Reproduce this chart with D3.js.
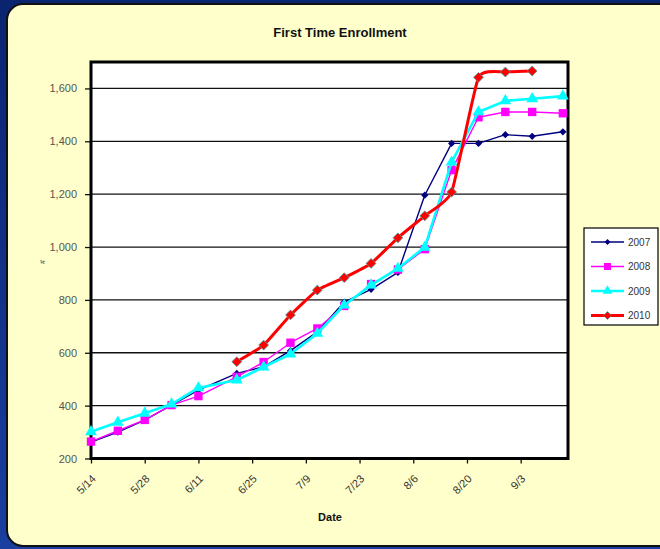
<!DOCTYPE html>
<html><head><meta charset="utf-8">
<script src="https://cdn.jsdelivr.net/npm/d3@7"></script>
<style>body{margin:0;background:#0b2a78;}svg{display:block;}</style>
</head><body>
<svg id="c" width="660" height="549"></svg>
<script>
const dates2007 = ["5/14","5/21","5/28","6/4","6/11","6/21","6/28","7/5","7/12","7/19","7/26","8/2","8/9","8/16","8/23","8/30","9/6","9/14"];
const values2007 = [262,300,345,402,459,522,547,608,679,792,840,904,1196,1392,1392,1425,1419,1436];
const values2008 = [264,305,346,402,436,509,565,638,692,777,860,915,992,1291,1491,1511,1511,1506];
const values2009 = [301,337,371,406,467,497,546,595,673,780,856,919,999,1321,1511,1553,1561,1571];
const dates2010 = ["6/21","6/28","7/5","7/12","7/19","7/26","8/2","8/9","8/16","8/23","8/30","9/6"];
const values2010 = [566,629,743,837,884,938,1035,1118,1208,1642,1662,1666];
const xTickLabels = ["5/14","5/28","6/11","6/25","7/9","7/23","8/6","8/20","9/3"];
const yTicks = [200,400,600,800,1000,1200,1400,1600];
const seriesNames = ["2007","2008","2009","2010"];

const parse = s => { const [m,d] = s.split("/").map(Number); return new Date(2010, m-1, d); };

const svg = d3.select("#c");
const defs = svg.append("defs");
const g1 = defs.append("linearGradient").attr("id","bg").attr("x1",0).attr("y1",0).attr("x2",0).attr("y2",1);
g1.append("stop").attr("offset","0%").attr("stop-color","#0a2470");
g1.append("stop").attr("offset","100%").attr("stop-color","#1a3fa0");
svg.append("rect").attr("width",660).attr("height",549).attr("fill","url(#bg)");
svg.append("rect").attr("x",7).attr("y",4).attr("width",700).attr("height",542).attr("rx",16)
  .attr("fill","#ffffcc").attr("stroke","#111").attr("stroke-width",2);

const L = 91, R = 568, T = 62, B = 458.5;
const x = d3.scaleTime().domain([parse("5/14"), new Date(2010, 8, 15, 8)]).range([L, R]);
const y = d3.scaleLinear().domain([200,1700]).range([B, T]);

svg.append("rect").attr("x",L).attr("y",T).attr("width",R-L).attr("height",B-T).attr("fill","#fff");

svg.append("g").selectAll("line").data(yTicks.filter(v=>v>200)).join("line")
  .attr("x1",L).attr("x2",R).attr("y1",d=>y(d)).attr("y2",d=>y(d))
  .attr("stroke","#111").attr("stroke-width",1.3);

const font = "Arial, Liberation Sans, sans-serif";
const yAxis = d3.axisLeft(y).tickValues(yTicks).tickFormat(d3.format(",")).tickSize(6).tickPadding(8);
const ya = svg.append("g").attr("transform",`translate(${L},0)`).call(yAxis);
ya.select(".domain").remove();
ya.selectAll("line").attr("stroke","#111").attr("stroke-width",1.3);
ya.selectAll("text").attr("font-family",font).attr("font-size",11).attr("fill","#555");

const xAxis = d3.axisBottom(x).tickValues(xTickLabels.map(parse)).tickFormat(d3.timeFormat("%-m/%-d")).tickSize(5).tickPadding(6);
const xa = svg.append("g").attr("transform",`translate(0,${B})`).call(xAxis);
xa.select(".domain").remove();
xa.selectAll("line").attr("stroke","#111").attr("stroke-width",1.3);
xa.selectAll("text").attr("font-family",font).attr("font-size",11).attr("fill","#333")
  .attr("text-anchor","end").attr("y",0).attr("dy",0).attr("transform","translate(5,21) rotate(-45)");

svg.append("rect").attr("x",L).attr("y",T).attr("width",R-L).attr("height",B-T)
  .attr("fill","none").attr("stroke","#000").attr("stroke-width",3);

const series = [
  {name:seriesNames[0], dates:dates2007, vals:values2007, color:"#000080", w:1.4, sym:d3.symbolSquare, rot:45, size:26, curve:d3.curveLinear, stroke:"none"},
  {name:seriesNames[1], dates:dates2007, vals:values2008, color:"#ff00ff", w:1.4, sym:d3.symbolSquare, rot:0, size:70, curve:d3.curveLinear, stroke:"none"},
  {name:seriesNames[2], dates:dates2007, vals:values2009, color:"#00ffff", w:2.6, sym:d3.symbolTriangle, rot:0, size:60, curve:d3.curveLinear, stroke:"none"},
  {name:seriesNames[3], dates:dates2010, vals:values2010, color:"#ff0000", w:3, sym:d3.symbolSquare, rot:45, size:48, curve:d3.curveCardinal.tension(0.55), stroke:"#4a9a9a"}
];

const plot = svg.append("g");
series.forEach(s => {
  const pts = s.dates.map((d,i)=>({d:parse(d), v:s.vals[i]}));
  plot.append("path").datum(pts).attr("fill","none").attr("stroke",s.color).attr("stroke-width",s.w)
    .attr("stroke-linejoin","round")
    .attr("d", d3.line().x(p=>x(p.d)).y(p=>y(p.v)).curve(s.curve));
  plot.append("g").selectAll("path").data(pts).join("path")
    .attr("transform",p=>`translate(${x(p.d)},${y(p.v)}) rotate(${s.rot})`)
    .attr("d", d3.symbol().type(s.sym).size(s.size))
    .attr("fill",s.color).attr("stroke",s.stroke).attr("stroke-width",0.8);
});

svg.append("text").attr("x",340).attr("y",37).attr("text-anchor","middle")
  .attr("font-family",font).attr("font-weight","bold").attr("font-size",13).attr("fill","#111")
  .text("First Time Enrollment");
svg.append("text").attr("x",330).attr("y",521).attr("text-anchor","middle")
  .attr("font-family",font).attr("font-weight","bold").attr("font-size",11).attr("fill","#111")
  .text("Date");
svg.append("text").attr("transform","translate(45,262) rotate(-90)").attr("text-anchor","middle")
  .attr("font-family",font).attr("font-size",7).attr("fill","#333")
  .text("#");

const lg = svg.append("g");
lg.append("rect").attr("x",584).attr("y",228).attr("width",74).attr("height",97).attr("fill","#fff").attr("stroke","#000").attr("stroke-width",1.2);
series.forEach((s,i)=>{
  const yy = 242 + i*24.5;
  lg.append("line").attr("x1",591).attr("x2",624).attr("y1",yy).attr("y2",yy).attr("stroke",s.color).attr("stroke-width",s.w);
  lg.append("path").attr("transform",`translate(607.5,${yy}) rotate(${s.rot})`).attr("d",d3.symbol().type(s.sym).size(s.size*0.7))
    .attr("fill",s.color).attr("stroke",s.stroke).attr("stroke-width",0.6);
  lg.append("text").attr("x",628).attr("y",yy+3.5).attr("font-family",font).attr("font-size",10).attr("fill","#333").text(s.name);
});
</script>
</body></html>
